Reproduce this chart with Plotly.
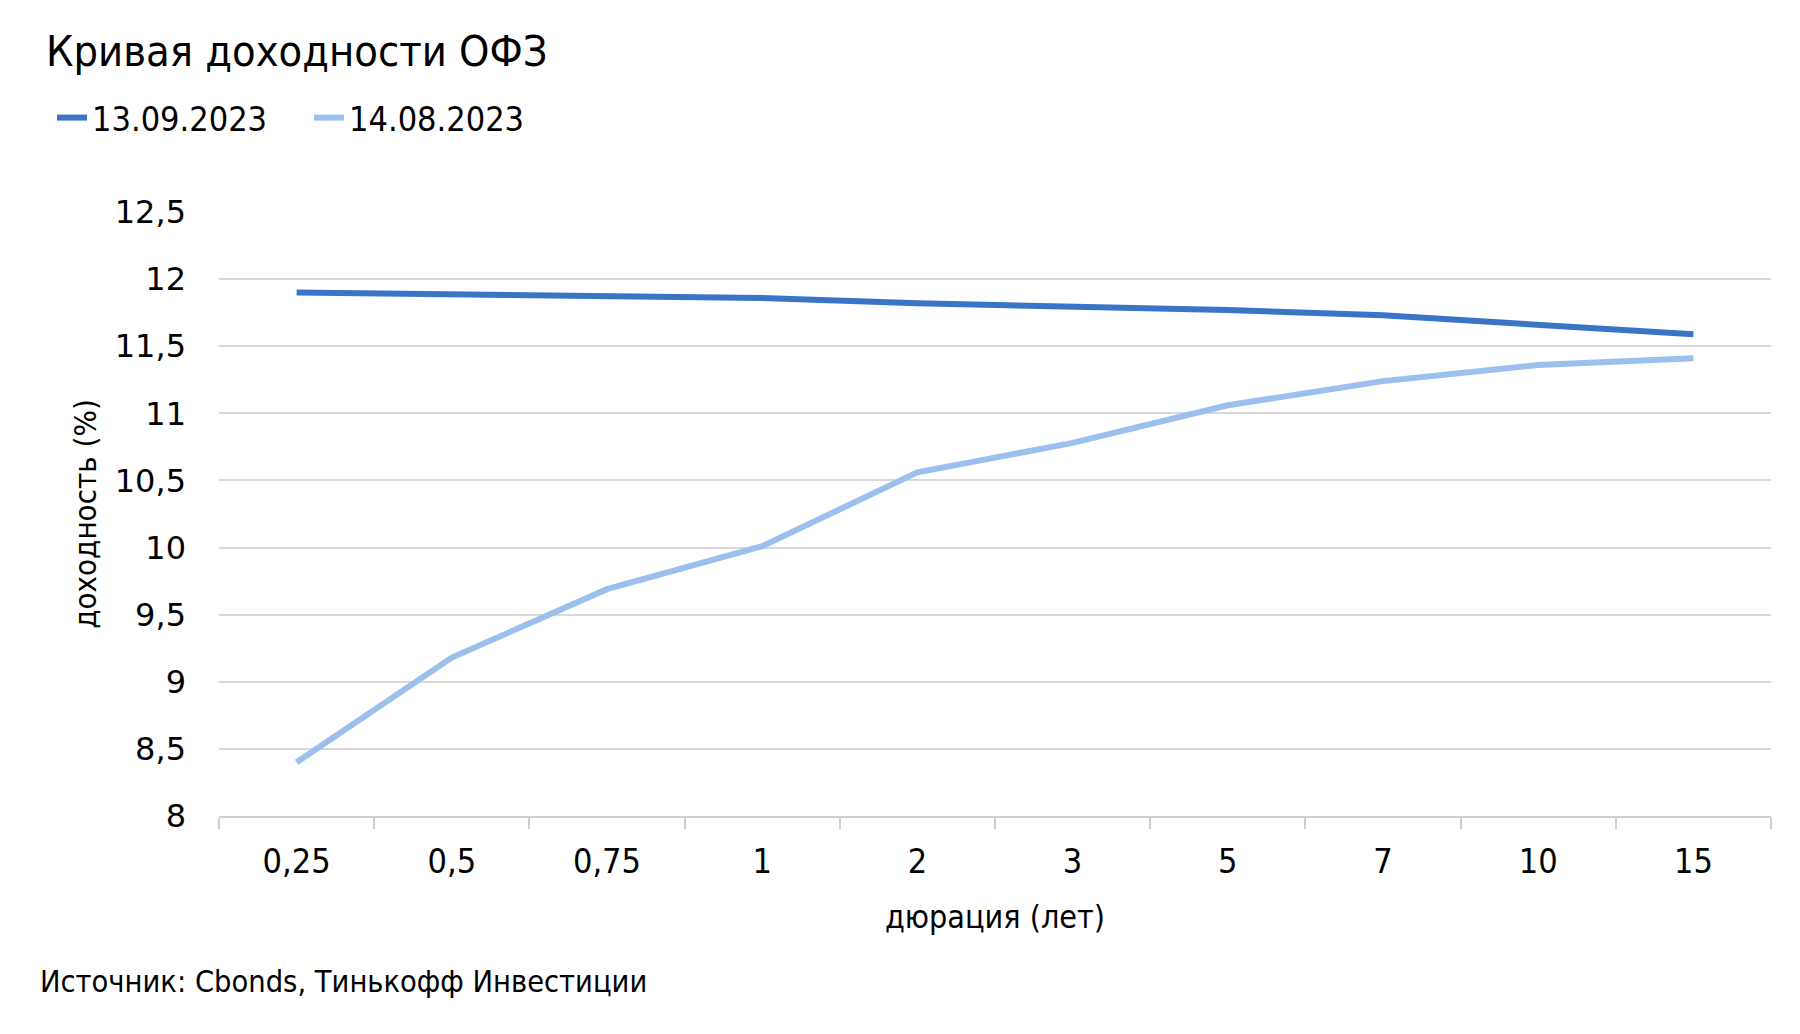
import plotly.graph_objects as go

categories = ["0,25", "0,5", "0,75", "1", "2", "3", "5", "7", "10", "15"]
yield_2023_09_13 = [11.90, 11.885, 11.87, 11.86, 11.82, 11.80, 11.77, 11.73, 11.66, 11.59]
yield_2023_08_14 = [8.40, 9.18, 9.69, 10.01, 10.56, 10.78, 11.06, 11.24, 11.36, 11.41]
series_names = ["13.09.2023", "14.08.2023"]
y_ticks = [8, 8.5, 9, 9.5, 10, 10.5, 11, 11.5, 12, 12.5]
y_tick_labels = ["8", "8,5", "9", "9,5", "10", "10,5", "11", "11,5", "12", "12,5"]

NARROW = "DejaVu Sans Condensed, Liberation Sans Narrow, sans-serif"
WIDE = "DejaVu Sans, sans-serif"

W, H = 1800, 1034
L, R, T, B = 211, 37, 204, 226
PW, PH = W - L - R, H - T - B

fig = go.Figure()
fig.add_trace(go.Scatter(x=categories, y=yield_2023_09_13, name=series_names[0], mode="lines",
                         line=dict(color="#3a74c6", width=6)))
fig.add_trace(go.Scatter(x=categories, y=yield_2023_08_14, name=series_names[1], mode="lines",
                         line=dict(color="#9cc0ee", width=6)))

fig.update_layout(
    width=W, height=H,
    margin=dict(l=L, r=R, t=T, b=B, autoexpand=False),
    paper_bgcolor="white", plot_bgcolor="white",
    title=dict(text="Кривая доходности ОФЗ", x=38/W, xanchor="left", xref="container",
               y=1-43/H, yanchor="middle", yref="container",
               font=dict(family=NARROW, size=43, color="black")),
    legend=dict(orientation="h", x=44/W, xref="container", xanchor="left",
                y=1-110/H, yref="container", yanchor="middle",
                font=dict(family=NARROW, size=34, color="black"),
                entrywidth=212, entrywidthmode="pixels",
                tracegroupgap=0, bgcolor="rgba(0,0,0,0)"),
    xaxis=dict(type="category", range=[-0.5, 9.5], tickson="boundaries", ticks="outside", ticklen=11,
               tickcolor="#d0d0d0", tickwidth=2, showline=True, linecolor="#d0d0d0", linewidth=2,
               showgrid=False, tickfont=dict(family=NARROW, size=34, color="black"),
               ticklabelstandoff=14, automargin=False,
               title=dict(text="дюрация (лет)", font=dict(family=NARROW, size=32, color="black"), standoff=26)),
    yaxis=dict(range=[8, 12.5], tickvals=y_ticks, ticktext=y_tick_labels, showgrid=True,
               gridcolor="#d9d9d9", gridwidth=2, zeroline=False, showline=False,
               tickfont=dict(family=WIDE, size=32, color="black"), ticklabelstandoff=32, automargin=False,
               title=dict(text="доходность (%)", font=dict(family=NARROW, size=31, color="black"), standoff=8)),
    annotations=[dict(text="Источник: Cbonds, Тинькофф Инвестиции", xref="paper", yref="paper",
                      x=(30-L)/PW, xanchor="left", y=-(973-(H-B))/PH, yanchor="middle",
                      showarrow=False, font=dict(family=NARROW, size=30.5, color="black"))],
)

fig.write_html("out.html")
